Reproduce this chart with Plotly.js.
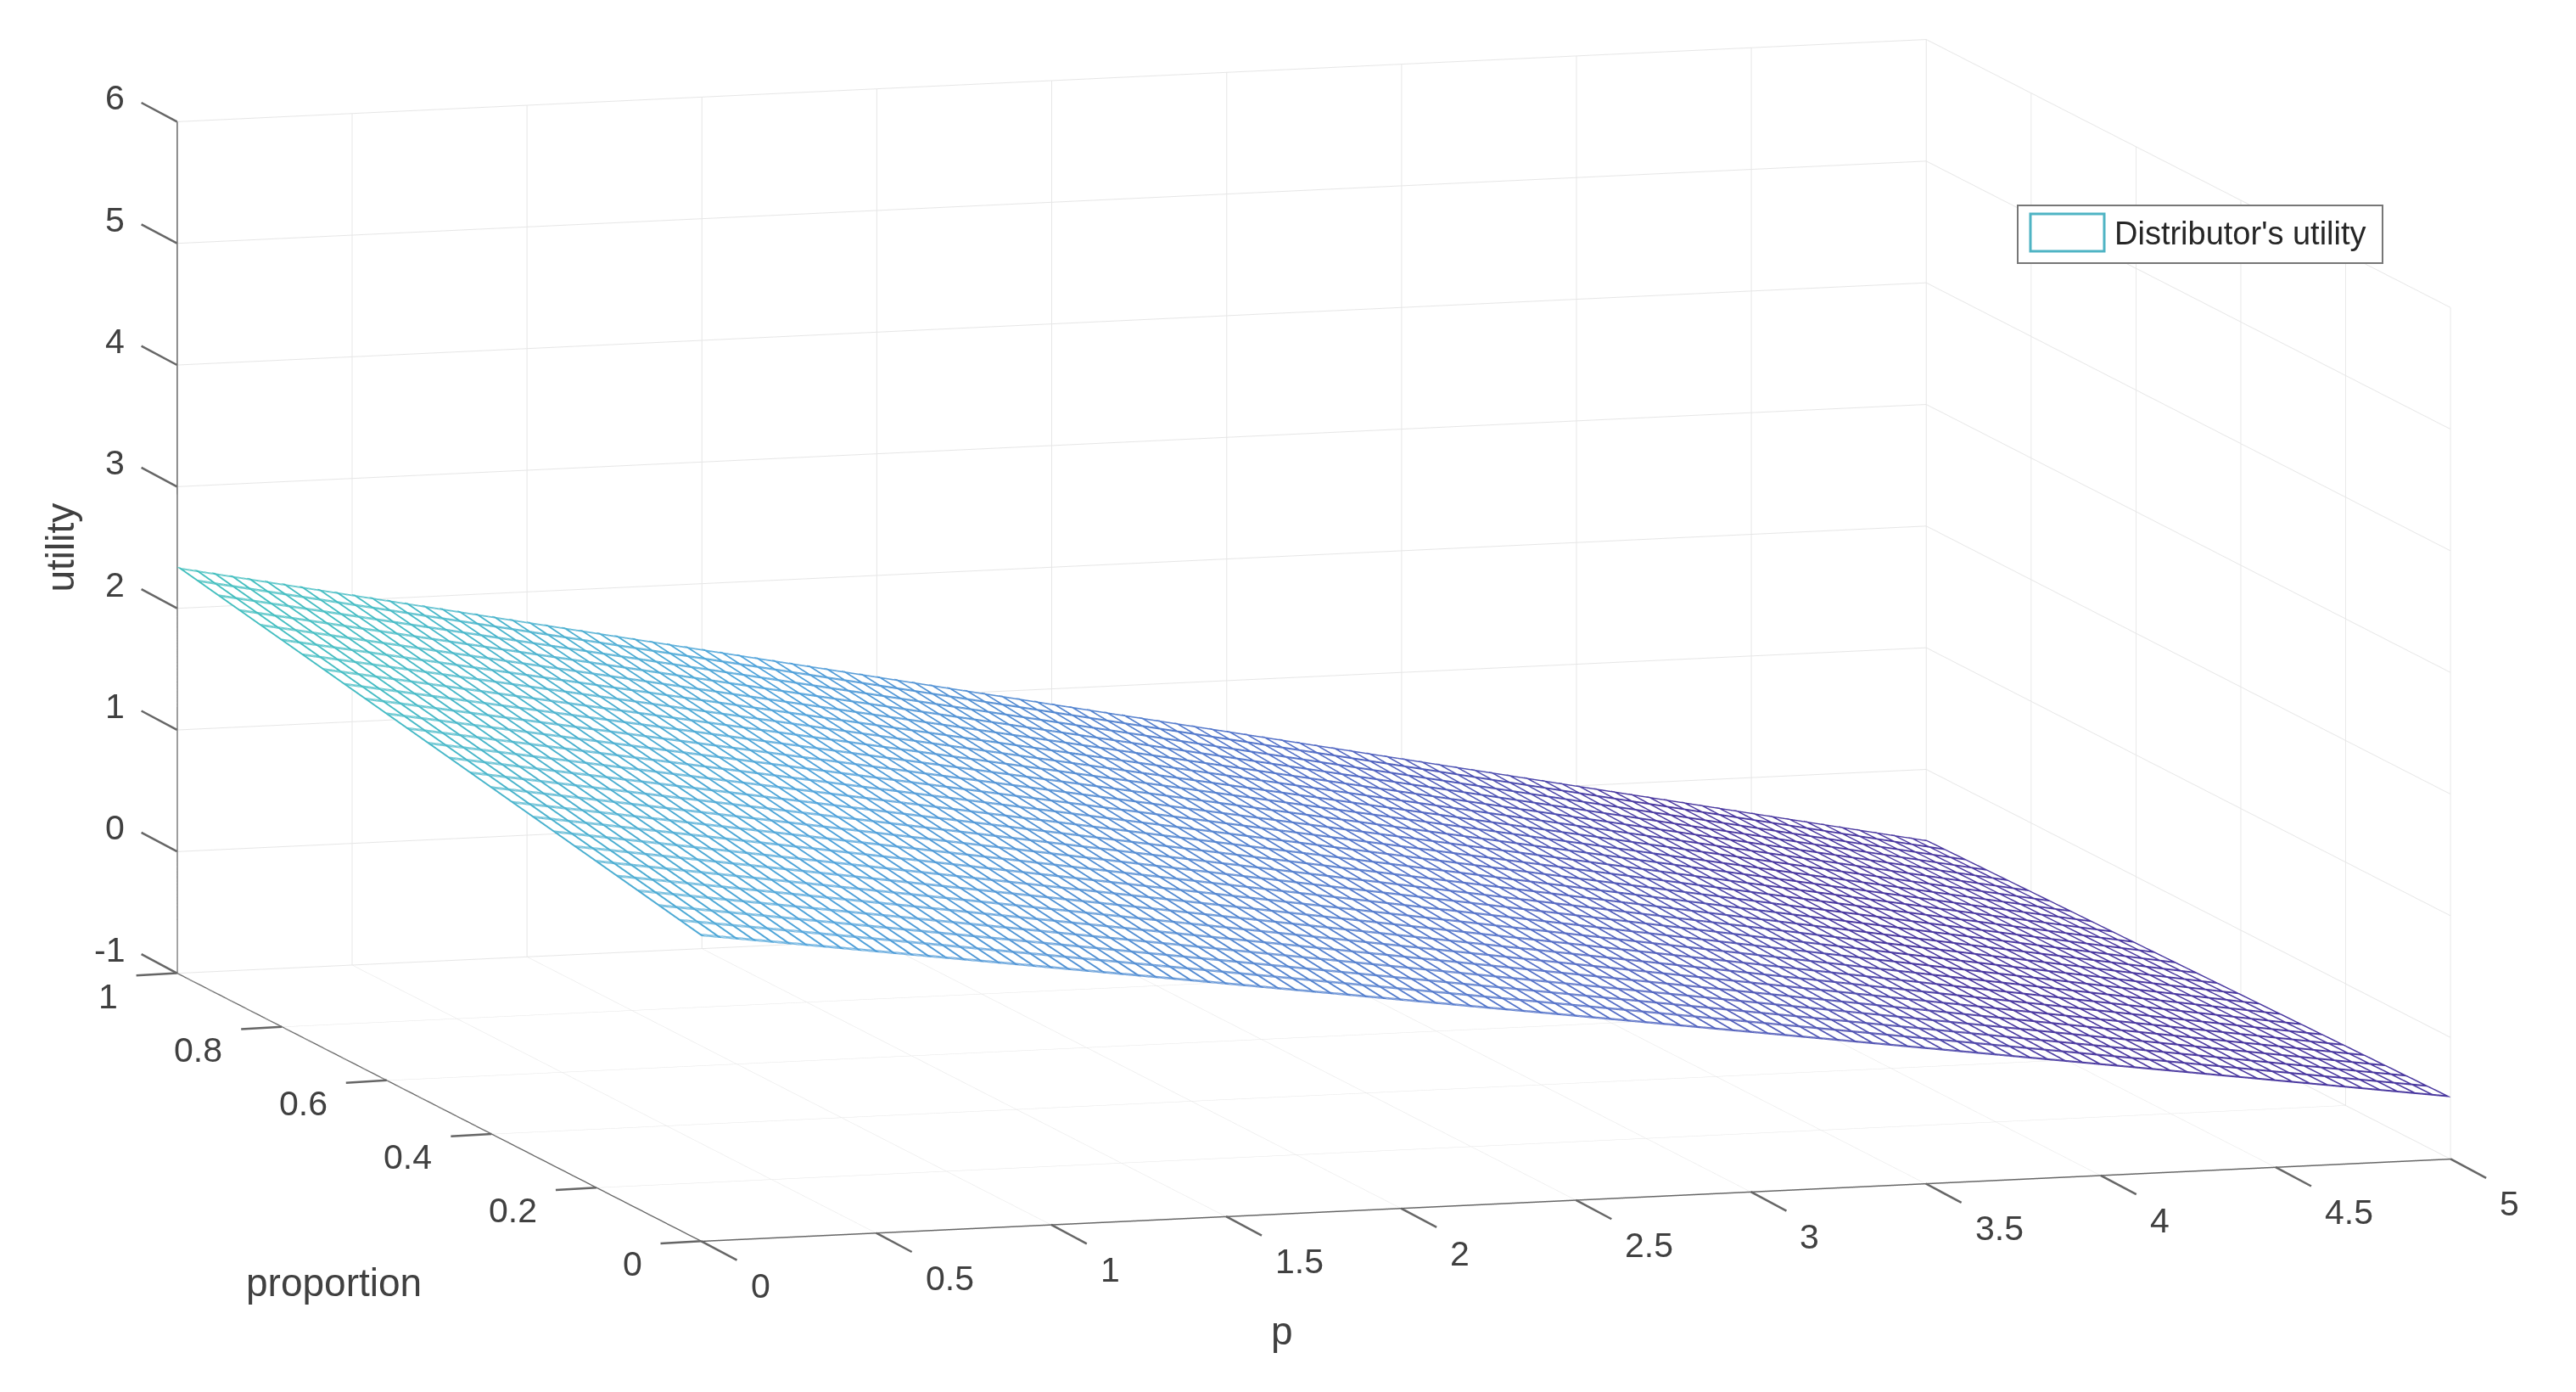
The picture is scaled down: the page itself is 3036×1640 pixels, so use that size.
<!DOCTYPE html>
<html>
<head>
<meta charset="utf-8">
<script src="https://cdn.plot.ly/plotly-3.0.1.min.js"></script>
<style>html,body{margin:0;padding:0;background:#fff}#myDiv{width:3036px;height:1640px}</style>
</head>
<body>
<div id="myDiv"></div>
<script>
// corner values, the mesh is a flat sheet between them
var p_values = [0, 5];
var proportion_values = [0, 1];
var utility_at_proportion_0 = [1.51, -0.49];
var utility_at_proportion_1 = [2.34, -0.58];

var p_ticks = [0, 0.5, 1, 1.5, 2, 2.5, 3, 3.5, 4, 4.5, 5];
var proportion_ticks = [0, 0.2, 0.4, 0.6, 0.8, 1];
var utility_ticks = [-1, 0, 1, 2, 3, 4, 5, 6];

var utility = [utility_at_proportion_0, utility_at_proportion_1];
var FONT = 'Liberation Sans, Arial, sans-serif';
var TICK_TEXT = {family: FONT, size: 41, color: '#404040'};
var TITLE_TEXT = {family: FONT, size: 46, color: '#404040'};
var AXIS_COLOR = '#666666';
var meshColors = [[0, '#4a389f'], [0.2, '#5470c8'], [0.5, '#4ea2da'], [0.72, '#45bcc4'], [1, '#3cc4b0']];

// white sheet hides the grid behind the mesh
var sheet = {
    type: 'surface', x: p_values, y: proportion_values, z: utility,
    colorscale: [[0, '#ffffff'], [1, '#ffffff']], showscale: false, hoverinfo: 'skip',
    lighting: {ambient: 1, diffuse: 0, specular: 0, roughness: 1, fresnel: 0}
};

function meshTrace(xLines, yLines) {
    return {
        type: 'surface', x: p_values, y: proportion_values, z: utility,
        colorscale: meshColors, cmin: -0.6, cmax: 2.34, showscale: false, hidesurface: true, hoverinfo: 'skip',
        contours: {
            x: Object.assign({show: true, usecolormap: true}, xLines),
            y: Object.assign({show: true, usecolormap: true}, yLines),
            z: {show: false}
        }
    };
}

// gl lines are stuck at 1px here, so each mesh line is drawn a few times side by side
function meshLayer(shift) {
    return meshTrace({start: shift * 0.0024, end: 5, size: 0.05}, {start: shift * 0.002, end: 1, size: 0.04});
}

function axis(ticks, range) {
    return {
        range: range, tickvals: ticks, ticktext: ticks.map(String), title: {text: ''}, showticklabels: false,
        showbackground: false, showgrid: true, gridcolor: '#e6e6e6', gridwidth: 2,
        showline: true, linecolor: AXIS_COLOR, linewidth: 3, zeroline: false, showspikes: false, ticks: ''
    };
}

// tick marks and labels as scene annotations, the gl ticks cannot point the way MATLAB's do
function tick(x, y, z, ax, ay) {
    return {x: x, y: y, z: z, showarrow: true, arrowhead: 0, arrowwidth: 2.5, arrowcolor: AXIS_COLOR, standoff: 0, ax: ax, ay: ay};
}
function tickLabel(x, y, z, v, anchor, xshift, yshift) {
    return {x: x, y: y, z: z, text: String(v), showarrow: false, xanchor: anchor, xshift: xshift, yshift: yshift, font: TICK_TEXT};
}
var tickNotes = [];
p_ticks.forEach(function (v) {
    tickNotes.push(tick(v, 0, -1, 45, 24), tickLabel(v, 0, -1, v, 'left', 56, -53));
});
proportion_ticks.forEach(function (v) {
    tickNotes.push(tick(0, v, -1, -51, 3), tickLabel(0, v, -1, v, 'right', -68, -27));
});
utility_ticks.forEach(function (v) {
    tickNotes.push(tick(0, 1, v, -45, -24), tickLabel(0, 1, v, v, 'right', -60, 28));
});

var layout = {
    width: 3036, height: 1640, margin: {l: 0, r: 0, t: 0, b: 0}, paper_bgcolor: '#ffffff', showlegend: false,
    scene: {
        domain: {x: [0.02, 1], y: [0.08, 1]},
        aspectmode: 'manual', aspectratio: {x: 2.855, y: 2.822, z: 1.346},
        camera: {projection: {type: 'orthographic'}, up: {x: 0, y: 0, z: 1}, center: {x: 0, y: 0, z: 0},
            eye: {x: -0.2867 * 8, y: -0.9455 * 8, z: 0.155 * 8}},
        xaxis: axis(p_ticks, [0, 5]), yaxis: axis(proportion_ticks, [0, 1]), zaxis: axis(utility_ticks, [-1, 6]),
        annotations: tickNotes.concat([
            {x: 2.5, y: 0, z: -1, text: 'p', showarrow: false, xshift: -346, yshift: -154, font: TITLE_TEXT},
            {x: 0, y: 0.5, z: -1, text: 'proportion', showarrow: false, xshift: -124, yshift: -207, font: TITLE_TEXT},
            {x: 0, y: 1, z: 2.5, text: 'utility', showarrow: false, textangle: -90, xshift: -138, font: TITLE_TEXT}
        ])
    },
    shapes: [
        {type: 'rect', xref: 'paper', yref: 'paper', x0: 2378 / 3036, x1: 2808 / 3036, y0: 1 - 310 / 1640, y1: 1 - 242 / 1640, line: {color: '#777777', width: 2}, fillcolor: '#ffffff', layer: 'above'},
        {type: 'rect', xref: 'paper', yref: 'paper', x0: 2393 / 3036, x1: 2480 / 3036, y0: 1 - 296 / 1640, y1: 1 - 252 / 1640, line: {color: '#4fb4c4', width: 3}, fillcolor: '#ffffff', layer: 'above'}
    ],
    annotations: [
        {xref: 'paper', yref: 'paper', x: 2490 / 3036, y: 1 - 275 / 1640, xanchor: 'left', yanchor: 'middle', text: "Distributor's utility", showarrow: false, font: {family: FONT, size: 38, color: '#262626'}}
    ]
};

var traces = [sheet, meshLayer(0), meshLayer(1), meshLayer(2), meshLayer(3)];
// far edges of the sheet fall on the last contour level and get dropped, so add them on their own
traces.push(meshTrace({start: 4.993, end: 4.9995, size: 0.0024}, {start: 0.994, end: 0.9995, size: 0.002}));

Plotly.newPlot('myDiv', traces, layout, {displayModeBar: false});
</script>
</body>
</html>
